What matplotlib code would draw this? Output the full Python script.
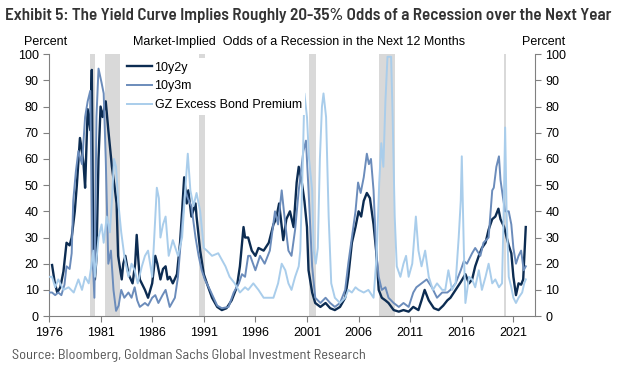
import matplotlib
matplotlib.use("Agg")
import matplotlib.pyplot as plt

# (year, percent)
t_2y = [1976.3, 1976.55, 1976.8, 1977.1, 1977.4, 1977.7, 1978.0, 1978.2, 1978.5, 1978.7,
        1979.0, 1979.2, 1979.35, 1979.5, 1979.75, 1980.0, 1980.15, 1980.3, 1980.45, 1980.6,
        1980.8, 1981.0, 1981.2, 1981.5, 1981.75, 1982.1, 1982.4, 1982.55, 1982.7, 1983.05,
        1983.2, 1983.4, 1983.7, 1984.1, 1984.35, 1984.5, 1984.65, 1984.8, 1985.05, 1985.3,
        1985.6, 1986.0, 1986.3, 1986.5, 1986.8, 1987.05, 1987.3, 1987.5, 1987.7, 1988.0,
        1988.4, 1988.7, 1988.9, 1989.1, 1989.35, 1989.5, 1989.8, 1990.2, 1990.3, 1990.65,
        1991.0, 1991.3, 1991.8, 1992.3, 1992.75, 1993.2, 1993.7, 1994.2, 1994.5, 1994.85,
        1995.0, 1995.3, 1995.65, 1996.0, 1996.3, 1996.8, 1997.3, 1997.75, 1998.0, 1998.3,
        1998.7, 1999.0, 1999.35, 1999.7, 2000.0, 2000.2, 2000.5, 2000.75, 2001.0, 2001.15,
        2001.5, 2001.8, 2002.3, 2002.8, 2003.25, 2003.7, 2004.2, 2004.7, 2005.0, 2005.35,
        2005.7, 2006.0, 2006.25, 2006.5, 2006.8, 2007.1, 2007.45, 2007.7, 2007.95, 2008.25,
        2008.6, 2008.9, 2009.4, 2009.9, 2010.35, 2010.85, 2011.3, 2011.8, 2012.1, 2012.4,
        2012.8, 2013.3, 2013.75, 2014.2, 2014.6, 2014.9, 2015.4, 2015.9, 2016.35, 2016.7,
        2017.0, 2017.3, 2017.65, 2017.95, 2018.3, 2018.6, 2018.95, 2019.25, 2019.55, 2019.75,
        2020.1, 2020.35, 2020.55, 2020.8, 2021.0, 2021.25, 2021.5, 2021.75, 2021.95, 2022.2]
v_2y = [19.5, 13, 9, 11, 17, 28, 27, 30, 40, 50,
        68, 63, 58, 49, 79, 71, 94, 20, 14, 22,
        60, 80, 76, 82, 71, 57, 48, 43, 23, 14,
        20, 23, 16, 12.5, 20, 31, 22, 14, 12, 10,
        7, 12.5, 23, 20, 14, 18, 19, 14, 15, 12.5,
        16, 28, 40, 53, 43, 48, 38, 43, 38, 25,
        16, 12.5, 7, 3.5, 2.3, 3, 6, 11, 19, 34,
        30, 30, 25, 23, 26, 25, 28, 35, 37, 43,
        29, 37, 40, 34, 51, 57, 51, 44, 34, 17.5,
        9, 5, 3.5, 5, 3, 2.3, 3.5, 7, 15, 28,
        34, 40, 38, 44, 47, 45, 35, 25, 10, 7,
        6, 5, 2.3, 1.7, 2.3, 1.7, 3.5, 2.3, 6, 10,
        6, 3, 2.3, 4, 6, 7, 10, 13, 16, 12.5,
        14, 19, 23, 26, 28, 33, 37, 38, 41, 37,
        34, 30, 27, 24, 15, 8, 12.5, 12, 14, 34]

t_3m = [1976.0, 1976.3, 1976.6, 1976.9, 1977.2, 1977.5, 1977.7, 1978.0, 1978.2, 1978.35,
        1978.6, 1978.85, 1979.2, 1979.5, 1979.75, 1980.0, 1980.2, 1980.4, 1980.6, 1980.8,
        1981.1, 1981.3, 1981.5, 1981.75, 1982.0, 1982.25, 1982.5, 1982.75, 1983.0, 1983.3,
        1983.7, 1984.0, 1984.3, 1984.55, 1984.8, 1985.3, 1985.6, 1986.0, 1986.3, 1986.6,
        1987.0, 1987.3, 1987.7, 1988.2, 1988.5, 1988.9, 1989.2, 1989.45, 1989.8, 1990.2,
        1990.5, 1990.8, 1991.1, 1991.6, 1992.3, 1992.75, 1993.4, 1993.9, 1994.4, 1994.7,
        1995.0, 1995.3, 1995.5, 1996.0, 1996.45, 1996.9, 1997.4, 1997.9, 1998.2, 1998.55,
        1998.9, 1999.2, 1999.5, 1999.85, 2000.2, 2000.65, 2000.9, 2001.15, 2001.5, 2001.8,
        2002.3, 2002.8, 2003.25, 2003.7, 2004.2, 2004.7, 2005.0, 2005.35, 2005.7, 2005.95,
        2006.2, 2006.5, 2006.8, 2007.0, 2007.2, 2007.45, 2007.7, 2007.95, 2008.25, 2008.6,
        2008.9, 2009.4, 2009.9, 2010.35, 2010.85, 2011.3, 2011.6, 2012.1, 2012.6, 2013.1,
        2013.6, 2014.1, 2014.6, 2014.9, 2015.4, 2015.9, 2016.2, 2016.5, 2017.0, 2017.3,
        2017.8, 2018.1, 2018.6, 2018.95, 2019.1, 2019.35, 2019.6, 2019.75, 2020.0, 2020.2,
        2020.55, 2020.8, 2021.0, 2021.25, 2021.5, 2021.75, 2022.0, 2022.2]
v_3m = [9, 9, 8, 9, 8, 12, 19, 18, 24, 44,
        55, 63, 58, 76, 82, 86, 25, 7, 76, 94.5,
        89, 85, 60, 20, 25, 10, 2, 4, 10, 7,
        9, 7, 11, 6, 3.5, 5, 4, 7, 8, 5,
        8, 10, 3.5, 7, 15, 35, 48, 45, 42, 30,
        23, 17.5, 14, 10, 4, 3, 3.5, 9, 12.5, 16,
        15, 23, 23, 17.5, 23, 20, 25, 40, 35, 48,
        35, 25, 23, 33, 48, 63, 67, 48, 19, 7,
        5, 7, 5, 3.5, 5, 10, 20, 30, 40, 51,
        47, 53, 62, 58, 60, 48, 25, 15, 10, 11,
        7, 5, 3.5, 5, 3.5, 9, 11, 12.5, 14, 11,
        7, 9, 9, 10, 12.5, 17.5, 21, 20, 24, 26,
        23, 28, 30, 48, 49, 57, 61, 52, 45, 40,
        40, 35, 26, 20, 23, 25, 17.5, 19]

t_gz = [1976.0, 1976.3, 1976.6, 1976.9, 1977.4, 1977.9, 1978.4, 1978.85, 1979.2, 1979.5,
        1979.85, 1980.1, 1980.3, 1980.45, 1980.8, 1981.1, 1981.3, 1981.6, 1981.9, 1982.1,
        1982.3, 1982.5, 1982.7, 1983.0, 1983.3, 1983.7, 1984.0, 1984.3, 1984.6, 1985.0,
        1985.3, 1985.6, 1986.0, 1986.2, 1986.45, 1986.65, 1986.8, 1987.05, 1987.3, 1987.6,
        1988.0, 1988.5, 1988.9, 1989.2, 1989.45, 1989.7, 1990.0, 1990.3, 1990.65, 1991.0,
        1991.3, 1991.8, 1992.4, 1993.1, 1993.5, 1994.0, 1994.5, 1995.0, 1995.3, 1995.8,
        1996.3, 1996.8, 1997.3, 1997.75, 1998.2, 1998.55, 1998.9, 1999.2, 1999.5, 1999.85,
        2000.2, 2000.35, 2000.6, 2000.75, 2001.0, 2001.2, 2001.5, 2001.65, 2001.85, 2002.05,
        2002.25, 2002.45, 2002.6, 2002.85, 2003.1, 2003.35, 2003.7, 2004.2, 2004.7, 2005.0,
        2005.35, 2005.7, 2006.0, 2006.5, 2006.95, 2007.45, 2007.75, 2008.0, 2008.2, 2008.4,
        2008.6, 2008.8, 2009.15, 2009.3, 2009.5, 2009.7, 2010.05, 2010.35, 2010.6, 2010.85,
        2011.2, 2011.55, 2011.8, 2012.1, 2012.45, 2012.8, 2013.2, 2013.6, 2014.1, 2014.4,
        2014.7, 2015.05, 2015.4, 2015.7, 2015.9, 2016.0, 2016.2, 2016.35, 2016.7, 2017.0,
        2017.3, 2017.65, 2017.95, 2018.3, 2018.6, 2018.95, 2019.25, 2019.6, 2019.9, 2020.05,
        2020.2, 2020.35, 2020.55, 2020.8, 2021.0, 2021.25, 2021.5, 2021.85, 2022.05, 2022.2]
v_gz = [15, 15, 11, 14, 10, 11, 9, 14, 10, 15,
        12.5, 19, 25, 15, 30, 35, 28, 38, 32, 44,
        60, 57, 44, 32, 23, 15, 20, 17.5, 12.5, 19,
        23, 25, 15, 30, 49, 45, 30, 35, 38, 23,
        29, 23, 30, 48, 62, 48, 42, 47, 40, 26,
        25, 23, 24, 19, 15, 12.5, 9, 11, 10, 12.5,
        10, 7, 7, 7, 12.5, 20, 17.5, 12.5, 10, 15,
        19, 25, 60, 85, 76, 60, 48, 25, 20, 26,
        60, 80, 85, 76, 38, 12.5, 7, 5, 7, 10,
        9, 11, 10, 9, 10, 7, 23, 51, 66, 57,
        82, 99, 99, 76, 38, 19, 15, 20, 23, 15,
        20, 38, 25, 19, 25, 15, 10, 12.5, 10, 10,
        17.5, 10, 12.5, 30, 44, 61, 25, 5, 15, 14,
        11, 17.5, 10, 15, 20, 12.5, 14, 11, 12.5, 38,
        72, 38, 15, 11, 7, 5, 7, 9, 12.5, 14]

recessions = [(1980.0, 1980.5), (1981.45, 1982.85), (1990.5, 1991.15),
              (2001.15, 2001.85), (2007.95, 2009.5), (2020.13, 2020.33)]

series_names = ["10y2y", "10y3m", "GZ Excess Bond Premium"]
series_colors = ["#0c2c52", "#6b8cbb", "#a9cdeb"]
years = [1976, 1981, 1986, 1991, 1996, 2001, 2006, 2011, 2016, 2021]

plt.rcParams['font.family'] = ['Liberation Sans', 'DejaVu Sans']

fig = plt.figure(figsize=(6.2, 3.71), dpi=100)
ax = fig.add_axes([0.079, 0.148, 0.784, 0.706])

for a, b in recessions:
    ax.axvspan(a, b, color="#d9d9d9", lw=0, zorder=0)

ax.plot(t_2y, v_2y, color=series_colors[0], lw=1.7, label=series_names[0], zorder=3)
ax.plot(t_3m, v_3m, color=series_colors[1], lw=1.4, label=series_names[1], zorder=3)
ax.plot(t_gz, v_gz, color=series_colors[2], lw=1.4, label=series_names[2], zorder=3)

ax.set_xlim(1976, 2023.1)
ax.set_ylim(0, 100)
ax.set_xticks(years)
ax.set_yticks(range(0, 101, 10))
ax.tick_params(axis='both', labelsize=9, color='#808080', length=4, direction='out')
ax.tick_params(axis='y', which='both', right=True, labelright=True)
for s in ['left', 'bottom', 'right']:
    ax.spines[s].set_color('#808080')
ax.spines['top'].set_visible(False)

leg = ax.legend(loc='upper left', bbox_to_anchor=(0.14, 1.01), fontsize=9,
                handlelength=2.0, handletextpad=0.2, labelspacing=0.55,
                frameon=True, fancybox=False, borderpad=0.3)
leg.get_frame().set_facecolor('white')
leg.get_frame().set_edgecolor('none')
leg.get_frame().set_alpha(1)
leg.set_zorder(5)

fig.text(0.008, 0.957, "Exhibit 5: The Yield Curve Implies Roughly 20-35% Odds of a Recession over the Next Year",
         family='Barlow Semi Condensed', weight=600, fontsize=12.3, color='#333333', va='center')
fig.text(0.482, 0.886, "Market-Implied  Odds of a Recession in the Next 12 Months",
         fontsize=9, ha='center', va='center')
fig.text(0.074, 0.886, "Percent", fontsize=9, ha='center', va='center')
fig.text(0.877, 0.886, "Percent", fontsize=9, ha='center', va='center')
fig.text(0.019, 0.043, "Source: Bloomberg, Goldman Sachs Global Investment Research",
         family='Barlow Semi Condensed', fontsize=10.3, color='#555555', va='center')

fig.savefig("out.png", dpi=100)
